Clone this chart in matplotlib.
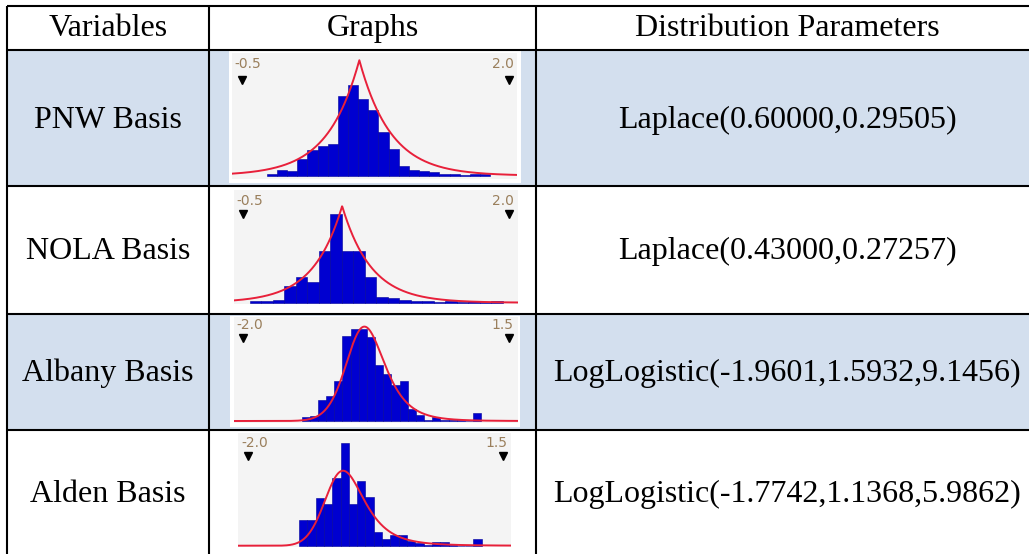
import numpy as np
import matplotlib.pyplot as plt
from matplotlib.patches import Rectangle

W, H = 1029, 554

# table text
headers = ["Variables", "Graphs", "Distribution Parameters"]
variables = ["PNW Basis", "NOLA Basis", "Albany Basis", "Alden Basis"]
params = ["Laplace(0.60000,0.29505)", "Laplace(0.43000,0.27257)",
          "LogLogistic(-1.9601,1.5932,9.1456)", "LogLogistic(-1.7742,1.1368,5.9862)"]

# fitted distributions shown in the small graphs
dist_kind = ["laplace", "laplace", "loglogistic", "loglogistic"]
dist_args = [(0.60000, 0.29505), (0.43000, 0.27257),
             (-1.9601, 1.5932, 9.1456), (-1.7742, 1.1368, 5.9862)]

# slider values printed above each graph
range_lo = [-0.5, -0.5, -2.0, -2.0]
range_hi = [2.0, 2.0, 1.5, 1.5]

# histograms (density), first bin edge and bin width
bin_start = [-0.266, -0.437, -1.231, -1.304]
bin_width = [0.095, 0.108, 0.1075, 0.114]
pnw_hist = [0.02, 0.09, 0.07, 0.25, 0.38, 0.43, 0.47, 1.17, 1.33, 1.12, 0.97,
            0.64, 0.39, 0.14, 0.09, 0.07, 0.06, 0.03, 0.02, 0.01, 0.03, 0.03]
nola_hist = [0.03, 0.04, 0.06, 0.32, 0.48, 0.39, 0.99, 1.69, 0.99, 0.99, 0.48,
             0.11, 0.08, 0.06, 0.04, 0.03, 0.02, 0.03, 0.01, 0.03, 0.01, 0.03]
albany_hist = [0.06, 0.08, 0.32, 0.38, 0.62, 1.31, 1.42, 1.42, 1.30, 0.86, 0.73,
               0.55, 0.62, 0.19, 0.09, 0.02, 0.06, 0.02, 0.01, 0.01, 0.0, 0.12]
alden_hist = [0.46, 0.46, 0.87, 0.75, 1.22, 1.85, 0.75, 1.16, 0.88, 0.24, 0.12,
              0.19, 0.19, 0.08, 0.04, 0.02, 0.06, 0.06, 0.02, 0.0, 0.0, 0.12]
hists = [pnw_hist, nola_hist, albany_hist, alden_hist]

# layout (pixels)
row_lines = [6, 50, 186, 314, 430]
col_lines = [7, 209, 536]
col_centers = [108, 372.5, 787]
baselines = [36, 128, 259, 381.5, 502]
shaded = [True, False, True, False]
image_box = [(229, 51, 521, 183), (232, 187, 519, 313), (230, 316, 520, 427), (234, 431, 514, 554)]
panel_box = [(232, 53, 517, 179), (234, 190, 518, 304), (234, 317, 518, 423), (238, 433, 511, 547)]
base_px = [175.7, 302.7, 421, 545.7]
px_per_dens = [68.2, 52.7, 65.0, 55.4]
tri_px = [(241.7, 509), (243.3, 509), (243.3, 509), (248.3, 503.3)]
tri_dy = [27, 24.5, 21, 23]
lab_dy = [11, 11, 8, 10]

SHADE = "#D3DFEE"
serif = "Liberation Serif"


def pdf(kind, args, x):
    if kind == "laplace":
        mu, b = args
        return np.exp(-np.abs(x - mu) / b) / (2 * b)
    g, beta, a = args
    t = np.clip((x - g) / beta, 1e-12, None)
    y = a * t ** (a - 1) / (beta * (1 + t ** a) ** 2)
    return np.where(x > g, y, 0.0)


fig = plt.figure(figsize=(W / 100, H / 100), dpi=100)
tab = fig.add_axes([0, 0, 1, 1])
tab.set_xlim(0, W)
tab.set_ylim(H, 0)
tab.axis("off")

# shaded rows
for i in range(4):
    if shaded[i]:
        y0 = row_lines[i + 1]
        y1 = row_lines[i + 2] if i + 2 < len(row_lines) else H
        tab.add_patch(Rectangle((col_lines[0], y0), W - col_lines[0], y1 - y0,
                                facecolor=SHADE, edgecolor="none"))

# grid lines
for y in row_lines:
    tab.plot([col_lines[0], W], [y, y], color="black", lw=1.5, solid_capstyle="butt")
for x in col_lines:
    tab.plot([x, x], [row_lines[0], H], color="black", lw=1.5, solid_capstyle="butt")

# header
for j, h in enumerate(headers):
    tab.text(col_centers[j], baselines[0], h, ha="center", va="baseline",
             fontsize=23, family=serif, color="black")

for i in range(4):
    tab.text(col_centers[0], baselines[i + 1], variables[i], ha="center", va="baseline",
             fontsize=23, family=serif, color="black")
    tab.text(col_centers[2], baselines[i + 1], params[i], ha="center", va="baseline",
             fontsize=23, family=serif, color="black")
    bx0, by0, bx1, by1 = image_box[i]
    tab.add_patch(Rectangle((bx0, by0), bx1 - bx0, by1 - by0, facecolor="white", edgecolor="none"))

# small graphs
for i in range(4):
    x0, y0, x1, y1 = panel_box[i]
    ax = fig.add_axes([x0 / W, 1 - y1 / H, (x1 - x0) / W, (y1 - y0) / H])
    ax.set_facecolor("#F4F4F4")
    for s in ax.spines.values():
        s.set_visible(False)
    ax.set_xticks([])
    ax.set_yticks([])

    lo, hi = range_lo[i], range_hi[i]
    t0, t1 = tri_px[i]
    scale = (t1 - t0) / (hi - lo)
    xmin = lo - (t0 - x0) / scale
    xmax = hi + (x1 - t1) / scale
    ax.set_xlim(xmin, xmax)
    ax.set_ylim(-(y1 - base_px[i]) / px_per_dens[i], (base_px[i] - y0) / px_per_dens[i])

    h = hists[i]
    lefts = bin_start[i] + bin_width[i] * np.arange(len(h))
    ax.bar(lefts, h, width=bin_width[i], align="edge", color="#0000D0",
           edgecolor="#00009A", lw=0.4)

    xs = np.linspace(xmin, xmax, 800)
    ax.plot(xs, pdf(dist_kind[i], dist_args[i], xs), color="#E8203A", lw=1.4)

    ph = y1 - y0
    ax.plot([lo, hi], [1 - tri_dy[i] / ph] * 2, "v", color="black", ms=5.5,
            transform=ax.get_xaxis_transform(), clip_on=False)
    ax.annotate(f"{lo:.1f}", xy=(lo, 1 - lab_dy[i] / ph), xycoords=ax.get_xaxis_transform(),
                xytext=(-7, 0), textcoords="offset pixels", ha="left", va="center",
                fontsize=10, color="#9A7F5C", family="DejaVu Sans")
    ax.annotate(f"{hi:.1f}", xy=(hi, 1 - lab_dy[i] / ph), xycoords=ax.get_xaxis_transform(),
                xytext=(4.5, 0), textcoords="offset pixels", ha="right", va="center",
                fontsize=10, color="#9A7F5C", family="DejaVu Sans")

fig.savefig("out.png", dpi=100)
